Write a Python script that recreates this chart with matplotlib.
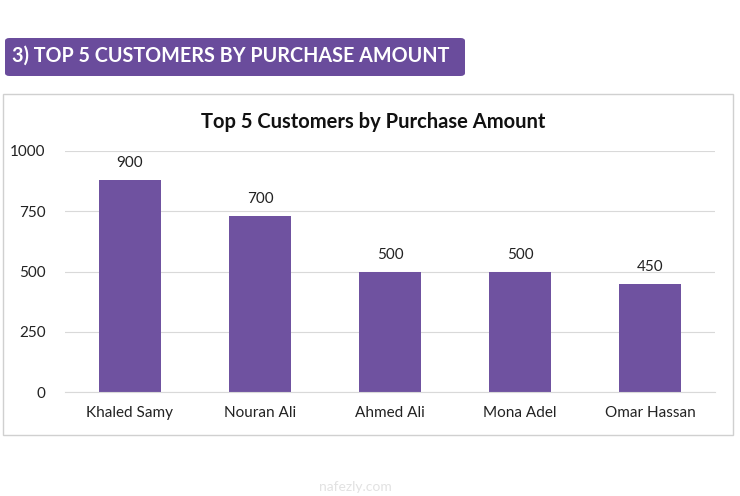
import matplotlib
matplotlib.use("Agg")
import matplotlib.pyplot as plt
from matplotlib.patches import FancyBboxPatch, Rectangle

customers = ["Khaled Samy", "Nouran Ali", "Ahmed Ali", "Mona Adel", "Omar Hassan"]
amounts = [880, 730, 500, 500, 450]
labels = ["900", "700", "500", "500", "450"]
yticks = [0, 250, 500, 750, 1000]

plt.rcParams['font.family'] = ['Lato', 'DejaVu Sans']
W, H = 740, 496
fig = plt.figure(figsize=(W / 100, H / 100), dpi=100)

# header box
hdr = FancyBboxPatch((5 / W, 1 - 76 / H), 460 / W, 38 / H,
                     boxstyle="round,pad=0,rounding_size=0.006",
                     transform=fig.transFigure, facecolor="#6A4C9C", edgecolor="none",
                     zorder=-2)
fig.patches.append(hdr)
fig.text(231 / W, 1 - 56 / H, "3) TOP 5 CUSTOMERS BY PURCHASE AMOUNT",
         color="white", fontsize=14.2, fontweight="bold", ha="center", va="center")

# chart frame
frame = Rectangle((3 / W, 1 - 435 / H), 730 / W, 341 / H, transform=fig.transFigure,
                  facecolor="white", edgecolor="#D0D0D0", linewidth=1, zorder=-2)
fig.patches.append(frame)

ax = fig.add_axes([65 / W, 1 - 392 / H, 650 / W, 241 / H])
ax.patch.set_alpha(0)
x = range(len(customers))
bars = ax.bar(x, amounts, width=0.47, color="#6F52A0")
for b, lab in zip(bars, labels):
    ax.text(b.get_x() + b.get_width() / 2, b.get_height() + 40, lab,
            ha="center", va="bottom", fontsize=11, color="#222222")

ax.set_ylim(0, 1000)
ax.set_xlim(-0.5, len(customers) - 0.5)
ax.set_yticks(yticks)
ax.set_xticks(list(x))
ax.set_xticklabels(customers)
ax.tick_params(length=0, labelsize=11, colors="#222222")
ax.tick_params(axis="y", pad=14)
ax.tick_params(axis="x", pad=10)
ax.grid(axis="y", color="#D9D9D9", linewidth=0.8)
ax.set_axisbelow(True)
for s in ["top", "right", "left"]:
    ax.spines[s].set_visible(False)
ax.spines["bottom"].set_color("#D9D9D9")

fig.text(373 / W, 1 - 122 / H, "Top 5 Customers by Purchase Amount",
         fontsize=14.5, fontweight="bold", ha="center", va="center", color="#111111")

fig.text(355 / W, 1 - 487 / H, "nafezly.com", fontsize=10, color="#E2E2E2",
         ha="center", va="center")

fig.savefig("out.png", dpi=100)
